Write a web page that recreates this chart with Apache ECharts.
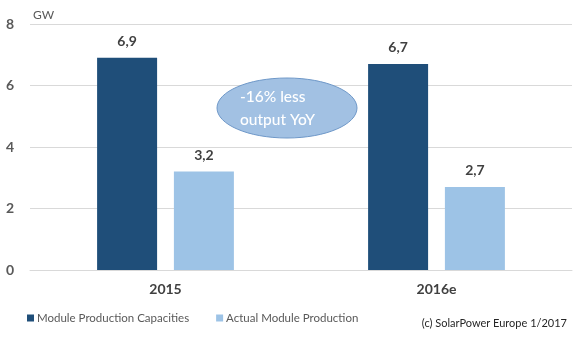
<!DOCTYPE html>
<html>
<head>
<meta charset="utf-8">
<script src="https://cdn.jsdelivr.net/npm/echarts@6/dist/echarts.min.js"></script>
<style>
  html, body { margin: 0; padding: 0; background: #fff; }
  #chart { width: 582px; height: 338px; }
</style>
</head>
<body>
<div id="chart"></div>
<script>
// Module production in Europe, GW
const categories = ['2015', '2016e'];
const capacities = [6.9, 6.7];
const production = [3.2, 2.7];
const yTicks = [0, 2, 4, 6, 8];
const seriesNames = ['Module Production Capacities', 'Actual Module Production'];

const FONT = 'Lato, "Open Sans", sans-serif';
const fmtComma = v => String(v).replace('.', ',');

const chart = echarts.init(document.getElementById('chart'));

const labelStyle = {
  show: true,
  position: 'top',
  distance: 9,
  color: '#404040',
  fontWeight: 'bold',
  fontSize: 14,
  fontFamily: FONT,
  formatter: p => fmtComma(p.value)
};

chart.setOption({
  animation: false,
  textStyle: { fontFamily: FONT },
  grid: { left: 30, right: 10, top: 24, bottom: 68 },
  legend: {
    left: 22,
    top: 307,
    itemWidth: 7,
    itemHeight: 7,
    itemGap: 27,
    icon: 'rect',
    textStyle: { color: '#595959', fontSize: 11.5, fontFamily: FONT, padding: [0, 0, 0, -2] },
    data: seriesNames
  },
  xAxis: {
    type: 'category',
    data: categories,
    axisLine: { show: true, lineStyle: { color: '#d9d9d9' } },
    axisTick: { show: false },
    axisLabel: { color: '#404040', fontWeight: 'bold', fontSize: 14, fontFamily: FONT, margin: 12 }
  },
  yAxis: {
    type: 'value',
    min: yTicks[0],
    max: yTicks[yTicks.length - 1],
    interval: 2,
    axisLine: { show: false },
    axisTick: { show: false },
    splitLine: { lineStyle: { color: '#d9d9d9' } },
    axisLabel: { color: '#595959', fontWeight: 'bold', fontSize: 14, fontFamily: FONT, margin: 16 }
  },
  series: [
    {
      name: seriesNames[0],
      type: 'bar',
      data: capacities,
      barWidth: 60,
      barGap: '28%',
      itemStyle: { color: '#1f4e79' },
      label: labelStyle
    },
    {
      name: seriesNames[1],
      type: 'bar',
      data: production,
      barWidth: 60,
      itemStyle: { color: '#9dc3e6' },
      label: labelStyle
    }
  ],
  graphic: [
    {
      type: 'text',
      left: 33,
      top: 9,
      style: { text: 'GW', fill: '#595959', font: '12px ' + FONT }
    },
    {
      type: 'ellipse',
      shape: { cx: 287, cy: 108, rx: 70, ry: 30 },
      style: { fill: '#a2c1e3', stroke: '#6f98c8', lineWidth: 1 },
      z: 10
    },
    {
      type: 'text',
      x: 240,
      y: 108,
      style: {
        text: '-16% less\noutput YoY',
        fill: '#ffffff',
        font: '500 15.5px ' + FONT,
        align: 'left',
        verticalAlign: 'middle',
        lineHeight: 23
      },
      z: 11
    },
    {
      type: 'text',
      right: 15,
      top: 318,
      style: { text: '(c) SolarPower Europe 1/2017', fill: '#262626', font: '11px ' + FONT }
    }
  ]
});
</script>
</body>
</html>
